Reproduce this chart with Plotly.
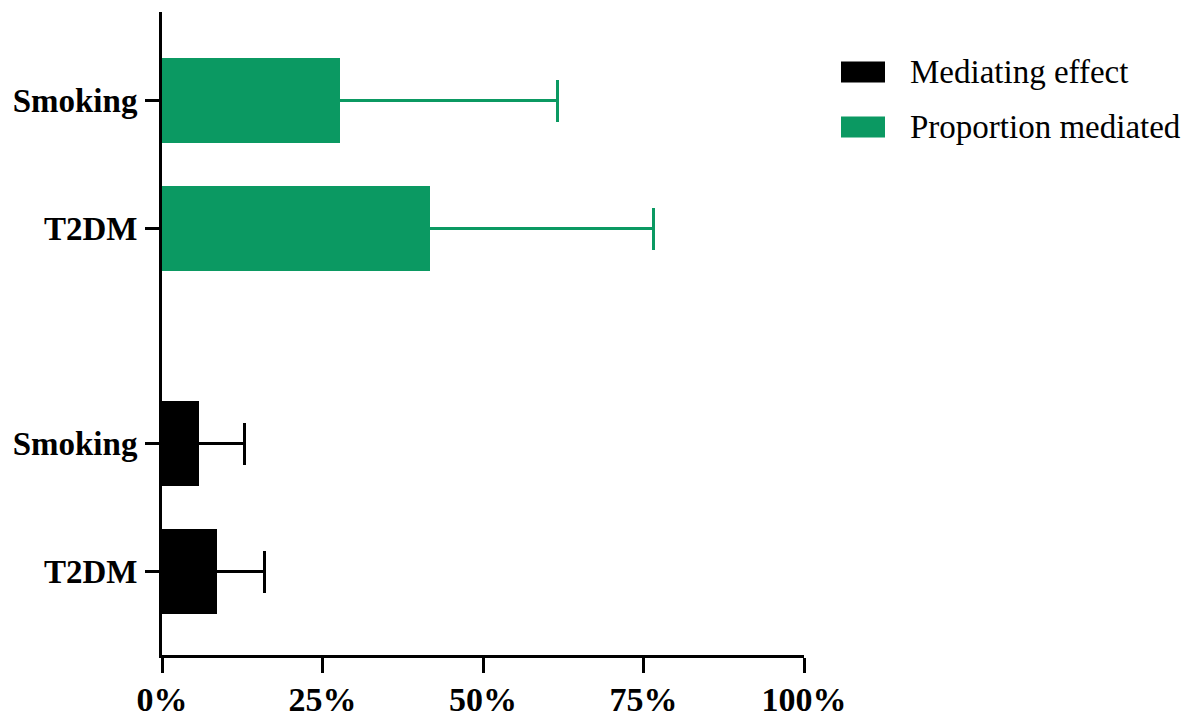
import plotly.graph_objects as go

# ---- data ----
categories = ["T2DM", "Smoking"]
series_names = ["Mediating effect", "Proportion mediated"]
mediating_effect = [8.6, 5.8]          # % (bar end)
mediating_effect_upper = [16.0, 12.9]  # % (upper CI)
proportion_mediated = [41.7, 27.7]
proportion_mediated_upper = [76.5, 61.6]
x_tick_vals = [0, 25, 50, 75, 100]
x_tick_text = ["0%", "25%", "50%", "75%", "100%"]

# ---- layout geometry ----
# the page body adds an 8px margin, so the figure is drawn 8px smaller and shifted
OFF = 8
W, H = 1200 - OFF, 725 - OFF
ML, MR, MT, MB = 154, 396, 4, 70
PW, PH = W - ML - MR, H - MT - MB
black = "#000000"
green = "#0b9962"
pos_black = [0, 1]
pos_green = [2.68, 3.68]
bar_w = 0.664
yrange = [-0.652, 4.375]
cap_inset = 1.0  # hide the lower error cap inside the bar
font_family = "Liberation Serif, Times New Roman, serif"

def px_x(x):  # window pixel -> paper
    return (x - OFF - ML) / PW

def px_y(y):
    return 1 - (y - OFF - MT) / PH

def err_plus(upper, val):
    return [u - v for u, v in zip(upper, val)]

fig = go.Figure()
fig.add_trace(go.Bar(
    x=mediating_effect, y=pos_black, orientation="h", width=bar_w,
    marker=dict(color=black, line=dict(width=0)), name=series_names[0],
    error_x=dict(type="data", symmetric=False,
                 array=err_plus(mediating_effect_upper, mediating_effect),
                 arrayminus=[cap_inset] * len(mediating_effect),
                 color=black, thickness=3, width=21),
    showlegend=False,
))
fig.add_trace(go.Bar(
    x=proportion_mediated, y=pos_green, orientation="h", width=bar_w,
    marker=dict(color=green, line=dict(width=0)), name=series_names[1],
    error_x=dict(type="data", symmetric=False,
                 array=err_plus(proportion_mediated_upper, proportion_mediated),
                 arrayminus=[cap_inset] * len(proportion_mediated),
                 color=green, thickness=3, width=21),
    showlegend=False,
))

fig.update_layout(
    width=W, height=H,
    margin=dict(l=ML, r=MR, t=MT, b=MB, pad=0, autoexpand=False),
    paper_bgcolor="white", plot_bgcolor="white",
    font=dict(family=font_family, color="black"),
    xaxis=dict(
        range=[0, 100], tickvals=x_tick_vals, ticktext=x_tick_text,
        showgrid=False, zeroline=False, showline=True, linecolor="black", linewidth=3,
        ticks="outside", ticklen=15, tickwidth=3, tickcolor="black",
        tickfont=dict(family=font_family, size=34, color="black", weight="bold"),
        ticklabelstandoff=-3, automargin=False,
    ),
    yaxis=dict(
        range=yrange, tickvals=pos_black + pos_green, ticktext=categories + categories,
        showgrid=False, zeroline=False, showline=True, linecolor="black", linewidth=3,
        ticks="outside", ticklen=14, tickwidth=3, tickcolor="black",
        tickfont=dict(family=font_family, size=33, color="black", weight="bold"),
        ticklabelstandoff=1, automargin=False,
    ),
    bargap=0,
)

# custom legend (large swatches as in reference)
legend_items = [(series_names[0], black, 72), (series_names[1], green, 127)]
for name, col, yc in legend_items:
    fig.add_shape(type="rect", xref="paper", yref="paper",
                  x0=px_x(841), x1=px_x(885), y0=px_y(yc - 10.5), y1=px_y(yc + 10.5),
                  fillcolor=col, line=dict(width=0))
    fig.add_annotation(xref="paper", yref="paper", x=px_x(908), y=px_y(yc),
                       xanchor="left", yanchor="middle", text=name, showarrow=False,
                       font=dict(family=font_family, size=33, color="black"))

fig.write_html("out.html")
